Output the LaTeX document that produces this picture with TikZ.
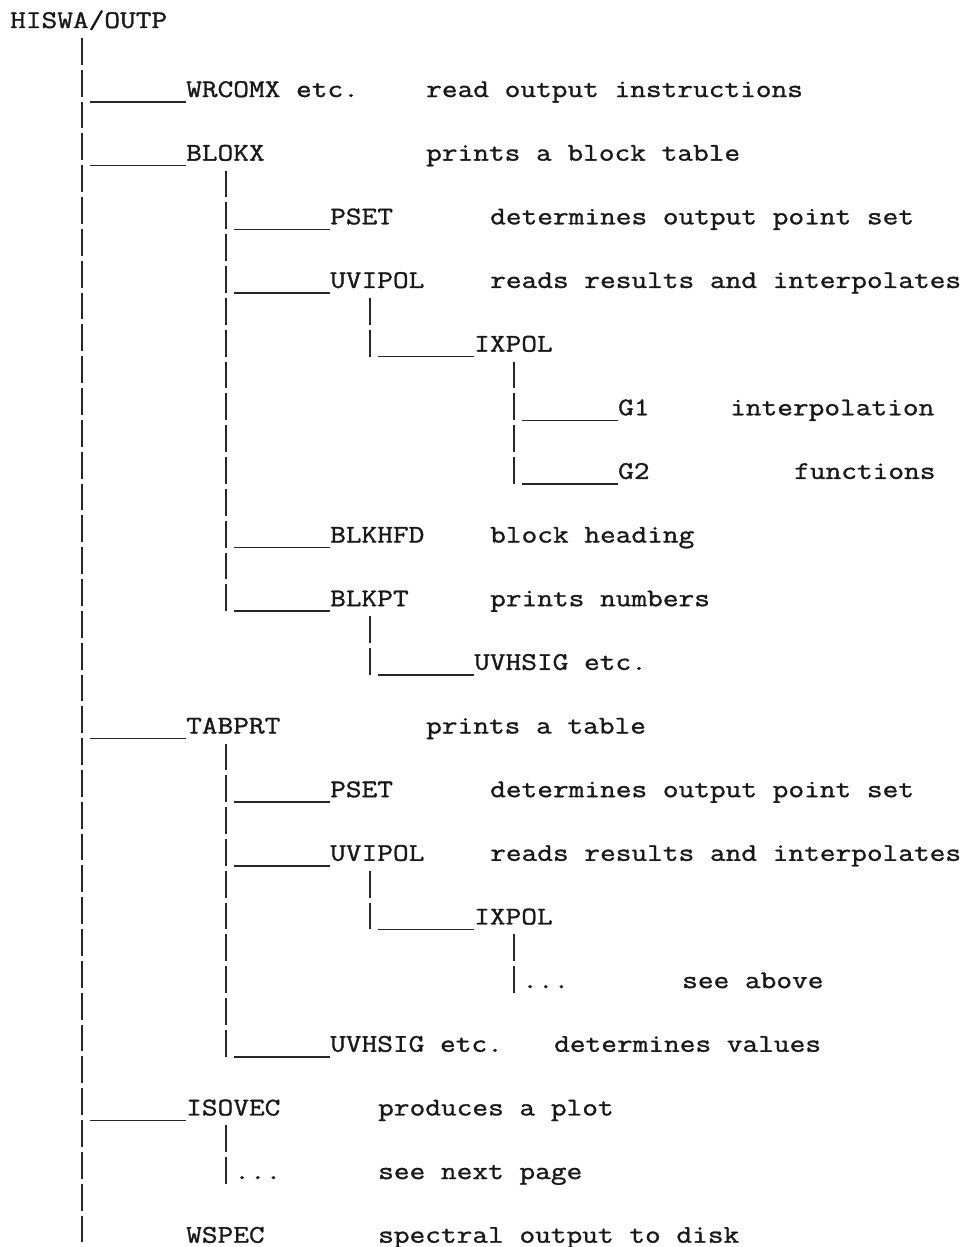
\documentclass[tikz,border=0pt]{standalone}
\usepackage{fontspec}
\usepackage{tikz}
\usetikzlibrary{calc}
\newfontfamily\typer[FakeStretch=1.2,FakeBold=1.2]{Latin Modern Mono}

\begin{document}
\begin{tikzpicture}[x=16pt,y=-63.65pt,
  routine/.style={anchor=base west,inner sep=0pt,text=black!90,font=\typer\fontsize{25.4}{32}\selectfont},
  note/.style={routine},
  bar/.style={line width=1.5pt,draw=black!85,dash pattern=on 26.825pt off 5pt},
  twig/.style={line width=1.5pt,draw=black!85}]
  \useasboundingbox (0pt,0pt) rectangle (972pt,-1247pt);
  \node[routine] (hiswa) at (10pt,-28pt) {HISWA/OUTP};
  \begin{scope}[shift={(10pt,-33.35pt)}]
    % program tree, one typed line per row
    \node[routine] (wrcomx)  at (11,1) {WRCOMX etc.};
    \node[note]    (wrcomxd) at (26,1) {read output instructions};
    \node[routine] (blokx)   at (11,2) {BLOKX};
    \node[note]    (blokxd)  at (26,2) {prints a block table};
    \node[routine] (psetA)   at (20,3) {PSET};
    \node[note]    (psetAd)  at (30,3) {determines output point set};
    \node[routine] (uvipolA) at (20,4) {UVIPOL};
    \node[note]    (uvipolAd) at (30,4) {reads results and interpolates};
    \node[routine] (ixpolA)  at (29,5) {IXPOL};
    \node[routine] (gone)    at (38,6) {G1};
    \node[note]    (goned)   at (45,6) {interpolation};
    \node[routine] (gtwo)    at (38,7) {G2};
    \node[note]    (gtwod)   at (49,7) {functions};
    \node[routine] (blkhfd)  at (20,8) {BLKHFD};
    \node[note]    (blkhfdd) at (30,8) {block heading};
    \node[routine] (blkpt)   at (20,9) {BLKPT};
    \node[note]    (blkptd)  at (30,9) {prints numbers};
    \node[routine] (uvhsigA) at (29,10) {UVHSIG etc.};
    \node[routine] (tabprt)  at (11,11) {TABPRT};
    \node[note]    (tabprtd) at (26,11) {prints a table};
    \node[routine] (psetB)   at (20,12) {PSET};
    \node[note]    (psetBd)  at (30,12) {determines output point set};
    \node[routine] (uvipolB) at (20,13) {UVIPOL};
    \node[note]    (uvipolBd) at (30,13) {reads results and interpolates};
    \node[routine] (ixpolB)  at (29,14) {IXPOL};
    \node[routine] (dotsA)   at (32,15) {...};
    \node[note]    (dotsAd)  at (42,15) {see above};
    \node[routine] (uvhsigB) at (20,16) {UVHSIG etc.};
    \node[note]    (uvhsigBd) at (34,16) {determines values};
    \node[routine] (isovec)  at (11,17) {ISOVEC};
    \node[note]    (isovecd) at (23,17) {produces a plot};
    \node[routine] (dotsB)   at (14,18) {...};
    \node[note]    (dotsBd)  at (23,18) {see next page};
    \node[routine] (wspec)   at (11,19) {WSPEC};
    \node[note]    (wspecd)  at (23,19) {spectral output to disk};
  \end{scope}
  % where each caller's bar is typed
  \foreach \p/\o in {hiswa/72,blokx/40,uvipolA/40,ixpolA/40,blkpt/40,
                     tabprt/40,uvipolB/40,ixpolB/40,isovec/40}
    \coordinate (\p-bar) at ($(\p.base west)+(\o pt,0pt)$);
  % vertical bars, typed as | on every half line
  \foreach \p/\c in {hiswa/wspec,blokx/blkpt,uvipolA/ixpolA,ixpolA/gtwo,blkpt/uvhsigA,
                     tabprt/uvhsigB,uvipolB/ixpolB,ixpolB/dotsA,isovec/dotsB}
    \draw[bar] ($(\p-bar)+(0pt,-10pt)$) -- ($(\c.base west -| \p-bar)+(0pt,-5pt)$);
  % underscores to each called routine
  \foreach \p/\c in {hiswa/wrcomx,hiswa/blokx,hiswa/tabprt,hiswa/isovec,hiswa/wspec,
                     blokx/psetA,blokx/uvipolA,blokx/blkhfd,blokx/blkpt,uvipolA/ixpolA,
                     ixpolA/gone,ixpolA/gtwo,blkpt/uvhsigA,tabprt/psetB,tabprt/uvipolB,
                     tabprt/uvhsigB,uvipolB/ixpolB}
    \draw[twig] ($(\c.base west -| \p-bar)+(8pt,-5pt)$) -- ($(\c.base west)+(0pt,-5pt)$);
\end{tikzpicture}
\end{document}
